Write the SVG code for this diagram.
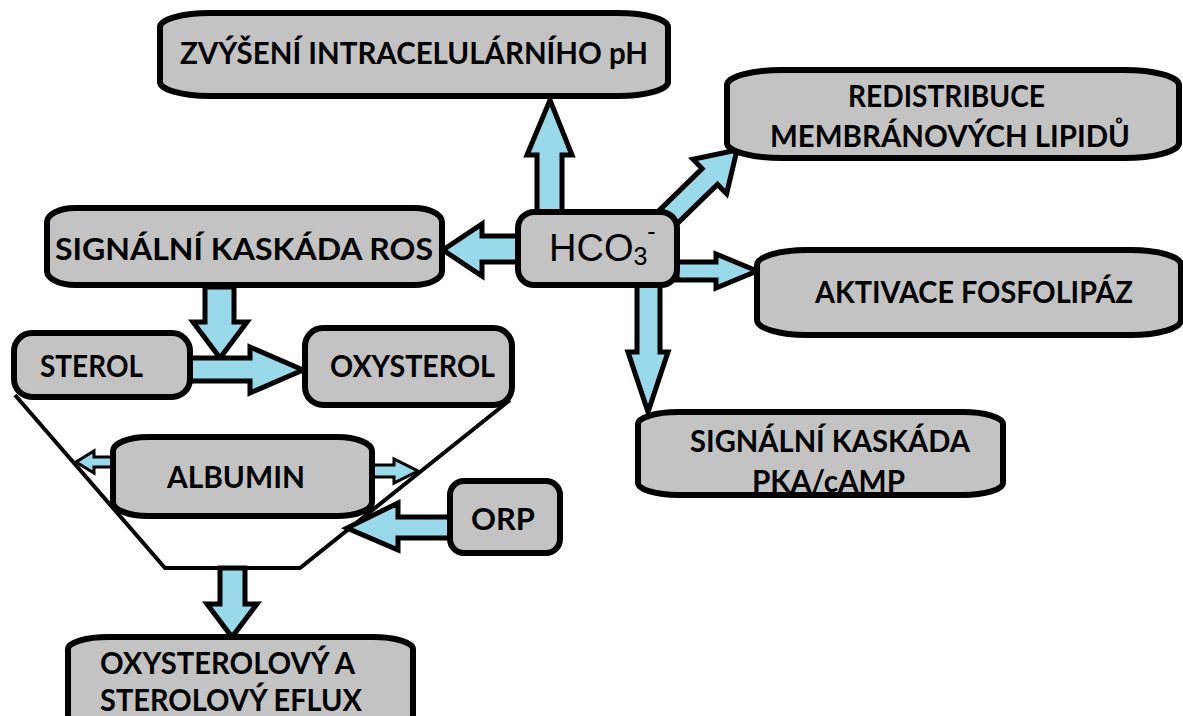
<svg xmlns="http://www.w3.org/2000/svg" width="1183" height="716" viewBox="0 0 1183 716">
<style>
.box{fill:#c3c3c3;stroke:#000;stroke-width:6}
.arr{fill:#99d9ea;stroke:#000;stroke-width:5;stroke-linejoin:miter}
.ln{fill:none;stroke:#000;stroke-width:4}
.t{font-family:Lato,"Open Sans","Liberation Sans",sans-serif;font-weight:bold;font-size:30px;fill:#000}
.h{font-family:"Liberation Sans",Arial,sans-serif;font-size:38px;fill:#000}
</style>
<rect width="1183" height="716" fill="#fff"/>
<g id="connectors">
<polyline class="ln" points="15,395 165,568 300,568 510,400"/>
<polygon class="arr" points="537,214 537,155 527,155 550,100 572,155 562,155 562,214"/>
<polygon class="arr" points="667.7,232.9 717.5,184.4 726.6,193.7 737,150 693,159.3 702.1,168.6 652.3,217.1"/>
<polygon class="arr" points="518,236 482,236 482,224 443,250 482,276 482,262 518,262"/>
<polygon class="arr" points="677,262 716,262 716,254 757,271 716,288 716,280 677,280"/>
<polygon class="arr" points="637,285 637,352 628,352 648,412 668,352 660,352 660,285"/>
<polygon class="arr" points="205,287 205,322 193,322 220,358 247,322 234,322 234,287"/>
<polygon class="arr" points="190,358 250,358 250,347 303,370 250,393 250,381 190,381"/>
<polygon class="arr" points="220,568 220,604 207,604 232,637 257,604 245,604 245,568"/>
<polygon class="arr" points="452,517 398,517 398,503 347,528 398,550 398,538 452,538"/>
<polygon class="arr" style="stroke-width:3" points="115,457 94,457 94,451 76,462 94,473 94,467 115,467"/>
<polygon class="arr" style="stroke-width:3" points="370,465 394,465 394,459 418,471 394,483 394,477 370,477"/>
</g>
<g id="n-ph">
<rect class="box" x="160" y="13" width="508" height="83" rx="50" ry="14"/>
<text class="t" x="180" y="64" textLength="468" lengthAdjust="spacingAndGlyphs">ZVÝŠENÍ INTRACELULÁRNÍHO pH</text>
</g>
<g id="n-redis">
<rect class="box" x="727" y="70" width="452" height="88" rx="55" ry="15"/>
<text class="t" x="848" y="107" textLength="197" lengthAdjust="spacingAndGlyphs">REDISTRIBUCE</text>
<text class="t" x="770" y="147" textLength="360" lengthAdjust="spacingAndGlyphs">MEMBRÁNOVÝCH LIPIDŮ</text>
</g>
<g id="n-ros">
<rect class="box" x="47" y="208" width="395" height="77" rx="28" ry="14"/>
<text class="t" x="55" y="260" textLength="378" lengthAdjust="spacingAndGlyphs">SIGNÁLNÍ KASKÁDA ROS</text>
</g>
<g id="n-hco3">
<rect class="box" x="518" y="212" width="159" height="73" rx="16" ry="16"/>
<text class="h" x="549" y="261">HCO<tspan font-size="25" dy="4">3</tspan><tspan font-size="25" dy="-25">-</tspan></text>
</g>
<g id="n-akt">
<rect class="box" x="757" y="250" width="424" height="85" rx="50" ry="15"/>
<text class="t" x="815" y="303" textLength="318" lengthAdjust="spacingAndGlyphs">AKTIVACE FOSFOLIPÁZ</text>
</g>
<g id="n-pka">
<rect class="box" x="638" y="412" width="365" height="83" rx="40" ry="12"/>
<text class="t" x="690" y="452" textLength="280" lengthAdjust="spacingAndGlyphs">SIGNÁLNÍ KASKÁDA</text>
<text class="t" x="752" y="492" textLength="153" lengthAdjust="spacingAndGlyphs">PKA/cAMP</text>
</g>
<g id="n-sterol">
<rect class="box" x="14" y="333" width="176" height="64" rx="18" ry="18"/>
<text class="t" x="40" y="377" textLength="103" lengthAdjust="spacingAndGlyphs">STEROL</text>
</g>
<g id="n-oxy">
<rect class="box" x="305" y="328" width="207" height="77" rx="18" ry="18"/>
<text class="t" x="330" y="377" textLength="165" lengthAdjust="spacingAndGlyphs">OXYSTEROL</text>
</g>
<g id="n-alb">
<rect class="box" x="113" y="437" width="259" height="79" rx="35" ry="14"/>
<text class="t" x="167" y="488" textLength="138" lengthAdjust="spacingAndGlyphs">ALBUMIN</text>
</g>
<g id="n-orp">
<rect class="box" x="450" y="481" width="110" height="72" rx="14" ry="14"/>
<text class="t" x="471" y="530" textLength="64" lengthAdjust="spacingAndGlyphs">ORP</text>
</g>
<g id="n-eflux">
<rect class="box" x="68" y="637" width="345" height="90" rx="40" ry="12"/>
<text class="t" x="100" y="674" textLength="255" lengthAdjust="spacingAndGlyphs">OXYSTEROLOVÝ A</text>
<text class="t" x="100" y="711" textLength="262" lengthAdjust="spacingAndGlyphs">STEROLOVÝ EFLUX</text>
</g>
</svg>
